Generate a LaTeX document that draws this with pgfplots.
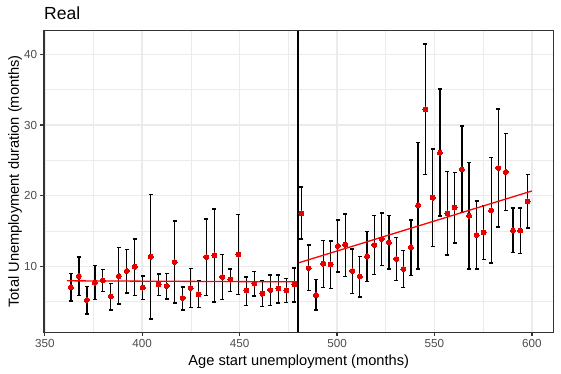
\documentclass[border=0pt]{standalone}
\usepackage{pgfplots}
\usepackage{pgfplotstable}
\pgfplotsset{compat=1.18}
\usepackage{fontspec}
\setmainfont{Liberation Sans}
\definecolor{grid92}{HTML}{EBEBEB}
\definecolor{g30}{HTML}{4D4D4D}
\definecolor{g20}{HTML}{333333}
\definecolor{ptred}{HTML}{E60000}
\pgfplotstableread{
x y lo hi
363.4 7.03 5.09 8.96
367.5 8.63 5.85 11.32
371.6 5.24 3.25 7.12
375.7 7.69 5.28 10.09
379.8 8.02 6.42 9.53
383.9 5.75 3.82 7.59
388.0 8.63 4.67 12.64
392.1 9.34 6.23 12.41
396.2 9.95 5.85 13.87
400.3 7.00 5.28 8.63
404.4 11.37 2.55 20.14
408.5 7.45 5.85 8.92
412.6 7.22 5.38 9.01
416.6 10.61 4.81 16.42
420.7 5.52 3.82 7.08
424.8 6.93 4.20 9.67
428.9 6.04 4.15 7.92
433.0 11.32 5.90 16.70
437.1 11.56 4.95 18.11
441.2 8.49 5.28 11.70
445.3 8.11 6.42 9.62
449.4 11.65 6.04 17.31
453.5 6.56 4.43 8.49
457.6 7.55 5.80 9.25
461.7 6.13 4.29 7.97
465.8 6.65 4.43 8.77
469.9 6.89 4.81 8.77
474.0 6.60 4.91 8.25
478.1 7.45 4.95 9.76
481.7 17.50 13.87 21.23
485.4 9.76 6.56 13.02
489.2 5.94 3.82 8.11
492.9 10.38 7.03 13.68
496.7 10.28 6.89 13.58
500.4 12.88 9.20 16.56
504.2 13.07 8.54 17.41
507.9 9.34 6.13 12.45
511.7 8.58 5.66 11.42
515.4 11.42 7.88 14.95
519.2 13.02 8.82 17.17
522.9 13.87 10.14 17.55
526.6 13.40 9.62 17.17
530.4 11.04 8.02 14.06
534.1 9.62 6.98 12.22
537.9 12.69 8.73 16.56
541.6 18.63 9.62 27.55
545.4 32.22 22.97 41.46
549.1 19.72 12.83 26.60
552.8 26.08 17.12 35.09
556.6 17.50 11.60 23.40
560.3 18.30 13.30 23.25
564.1 23.73 17.59 29.86
567.8 17.17 9.62 24.67
571.6 14.43 9.62 19.25
575.3 14.81 10.99 18.58
579.1 17.92 10.47 25.42
582.8 23.92 15.57 32.26
586.6 23.35 17.88 28.77
590.3 15.09 11.98 18.25
594.0 15.09 11.84 18.25
597.8 19.20 15.42 22.97
}\datatable
\begin{document}
\begin{tikzpicture}
\useasboundingbox (0,0) rectangle (561bp,374bp);
\begin{axis}[
  at={(44bp,41.6bp)}, anchor=south west,
  scale only axis, width=509.5bp, height=302.1bp,
  xmin=349.6, xmax=611.1, ymin=0.65, ymax=43.4,
  xtick={350,400,...,600}, ytick={10,20,30,40},
  minor xtick={375,425,...,575}, minor ytick={5,15,25,35},
  grid=both,
  major grid style={grid92, line width=1.6bp},
  minor grid style={grid92, line width=0.8bp},
  axis line style={g20, line width=1.3bp},
  tick align=outside, major tick length=3.7bp, minor tick length=0pt,
  tick style={g20, line width=1.3bp},
  xtick pos=bottom, ytick pos=left,
  /pgf/number format/assume math mode=true,
  tick label style={font=\fontsize{11.7}{12}\selectfont, color=g30, inner sep=0pt},
  xticklabel style={anchor=base, yshift=-11.2bp},
  yticklabel style={anchor=east, xshift=-2.9bp},
  title={Real},
  title style={at={(axis description cs:0,1)}, anchor=base west, inner sep=0pt, yshift=5bp, font=\fontsize{17.6}{18}\selectfont},
  xlabel={Age start unemployment (months)},
  every axis x label/.style={at={(axis description cs:0.5,0)}, anchor=base, inner sep=0pt, yshift=-32.6bp, font=\fontsize{14.7}{15}\selectfont},
  ylabel={Total Unemployment duration (months)},
  every axis y label/.style={at={(axis description cs:-0.0569,0.5)}, rotate=90, anchor=center, inner sep=0pt, font=\fontsize{14.7}{15}\selectfont},
]
\addplot[only marks, mark=none,
  error bars/.cd, y dir=both, y explicit, error mark=|,
  error bar style={draw=black, line width=1.3bp, solid},
  error mark options={draw=black, line width=1.3bp, mark size=2bp}]
  table[x=x, y=y, y error plus expr=\thisrow{hi}-\thisrow{y}, y error minus expr=\thisrow{y}-\thisrow{lo}] \datatable;
\addplot[red, line width=1.3bp] coordinates {(361.3,7.95) (480,7.8)};
\addplot[red, line width=1.3bp] coordinates {(480,10.47) (600,20.66)};
\addplot[only marks, mark=*, mark size=2.5bp, mark options={draw=ptred, fill=ptred, line width=0pt}] table[x=x, y=y] \datatable;
\addplot[black, line width=1.5bp] coordinates {(480,0.65) (480,43.4)};
\draw[g20, line width=1.3bp] (rel axis cs:0,0) rectangle (rel axis cs:1,1);
\end{axis}
\end{tikzpicture}
\end{document}
